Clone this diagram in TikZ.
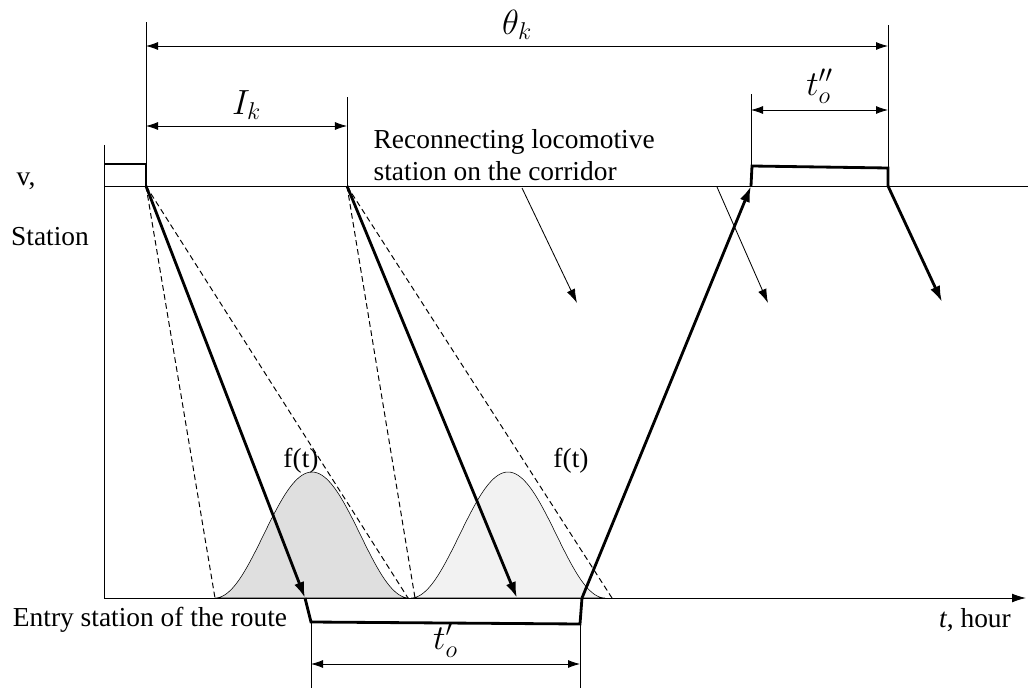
\documentclass[tikz,border=0pt]{standalone}
\usepackage{fontspec}
\setmainfont{Liberation Serif}
\usetikzlibrary{arrows.meta}
\begin{document}
\begin{tikzpicture}[x=0.025cm, y=-0.025cm,
    thinline/.style={line width=0.6pt},
    thickline/.style={line width=2pt},
    dim/.style={line width=0.6pt, {Latex[length=3mm,width=2mm]}-{Latex[length=3mm,width=2mm]}},
    move/.style={line width=2pt, -{Latex[length=4mm,width=2.6mm]}},
    pointer/.style={line width=0.6pt, -{Latex[length=3.5mm,width=2.2mm]}},
    guess/.style={line width=0.7pt, dash pattern=on 4pt off 2.5pt},
    txt/.style={font=\fontsize{19.5}{23}\selectfont, inner sep=1pt},
    mlabel/.style={font=\fontsize{25}{28}\selectfont, inner sep=1pt}]
  \useasboundingbox (0,0) rectangle (1028,690);
  \def\yS{186}   % station line
  \def\yE{598}   % entry station line
  \def\hw{97}    % half width of a density
  % densities
  \draw[fill=gray!25, line width=0.4pt] plot[domain=215:409, samples=90]
    (\x, {\yE-126*(1+cos((\x-312)*(180/\hw)))/2}) -- cycle;
  \draw[fill=gray!10, line width=0.4pt] plot[domain=411:605, samples=90]
    (\x, {\yE-126*(1+cos((\x-508)*(180/\hw)))/2}) -- cycle;
  % axes and station lines
  \coordinate (axtop) at (104,145);
  \coordinate (o) at (104,\yE);
  \coordinate (tend) at (1026,\yE);
  \coordinate (sL) at (104,\yS);
  \coordinate (sR) at (1028,\yS);
  \draw[thinline] (axtop) -- (o);
  \draw[thinline, -{Latex[length=3.5mm,width=2.2mm]}] (o) -- (tend);
  \draw[thinline] (sL) -- (sR);
  % points on the lines
  \coordinate (d1) at (146,\yS);
  \coordinate (d2) at (347,\yS);
  \coordinate (r1) at (751,\yS);
  \coordinate (r2) at (888,\yS);
  \coordinate (a1) at (305,\yE);
  \coordinate (a2) at (517,\yE);
  \coordinate (b1) at (582,\yE);
  % dashed spread
  \draw[guess] (d1) -- (215,\yE);
  \draw[guess] (d1) -- (408,\yE);
  \draw[guess] (d2) -- (415,\yE);
  \draw[guess] (d2) -- (612,\yE);
  % vertical ticks
  \coordinate (d1top) at (146,22);
  \coordinate (d2top) at (347,97);
  \coordinate (r1top) at (751,94);
  \coordinate (r2top) at (888,25);
  \coordinate (e1bot) at (311,688);
  \coordinate (e2bot) at (580,688);
  \coordinate (e1) at (311,622);
  \coordinate (e2) at (580,624);
  \draw[thinline] (d1) -- (d1top);
  \draw[thinline] (d2) -- (d2top);
  \draw[thinline] (r1) -- (r1top);
  \draw[thinline] (r2) -- (r2top);
  \draw[thinline] (e1) -- (e1bot);
  \draw[thinline] (e2) -- (e2bot);
  % dimensions
  \coordinate (th1) at (146,46);
  \coordinate (th2) at (888,46);
  \coordinate (ik1) at (146,126);
  \coordinate (ik2) at (347,126);
  \coordinate (tb1) at (751,110);
  \coordinate (tb2) at (888,110);
  \coordinate (ta1) at (311,664);
  \coordinate (ta2) at (580,664);
  \draw[dim] (th1) -- node[mlabel, above=3pt] (theta) {$\theta_k$} (th2);
  \draw[dim] (ik1) -- node[mlabel, above=3pt] (ik) {$I_k$} (ik2);
  \draw[dim] (tb1) -- node[mlabel, above=3pt] (tpp) {$t''_o$} (tb2);
  \draw[dim] (ta1) -- node[mlabel, above=3pt] (tp) {$t'_o$} (ta2);
  % locomotive runs
  \coordinate (w0) at (104,164);
  \coordinate (w1) at (146,164);
  \draw[thickline] (w0) -- (w1) -- (d1);
  \draw[move] (d1) -- (a1);
  \draw[move] (d2) -- (a2);
  \draw[thickline] (a1) -- (e1) -- (e2) -- (b1);
  \draw[move] (b1) -- (r1);
  \coordinate (p1) at (752,166);
  \coordinate (p2) at (888,168);
  \coordinate (q2) at (942,302);
  \draw[thickline] (r1) -- (p1) -- (p2) -- (r2);
  \draw[move] (r2) -- (q2);
  % pointers
  \coordinate (m1) at (522,188);
  \coordinate (n1) at (577,303);
  \coordinate (m2) at (717,187);
  \coordinate (n2) at (768,303);
  \draw[pointer] (m1) -- (n1);
  \draw[pointer] (m2) -- (n2);
  % texts
  \node[txt, anchor=west, align=left] (reloc) at (372,155)
    {Reconnecting locomotive\\station on the corridor};
  \node[txt] (vlab) at (26,181) {v,};
  \node[txt] (stat) at (50,237) {Station};
  \node[txt] (entry) at (150,620) {Entry station of the route};
  \node[txt] (thour) at (975,620) {\textit{t}, hour};
  \node[txt] (f1) at (301,461) {f(t)};
  \node[txt] (f2) at (571,461) {f(t)};
\end{tikzpicture}
\end{document}
